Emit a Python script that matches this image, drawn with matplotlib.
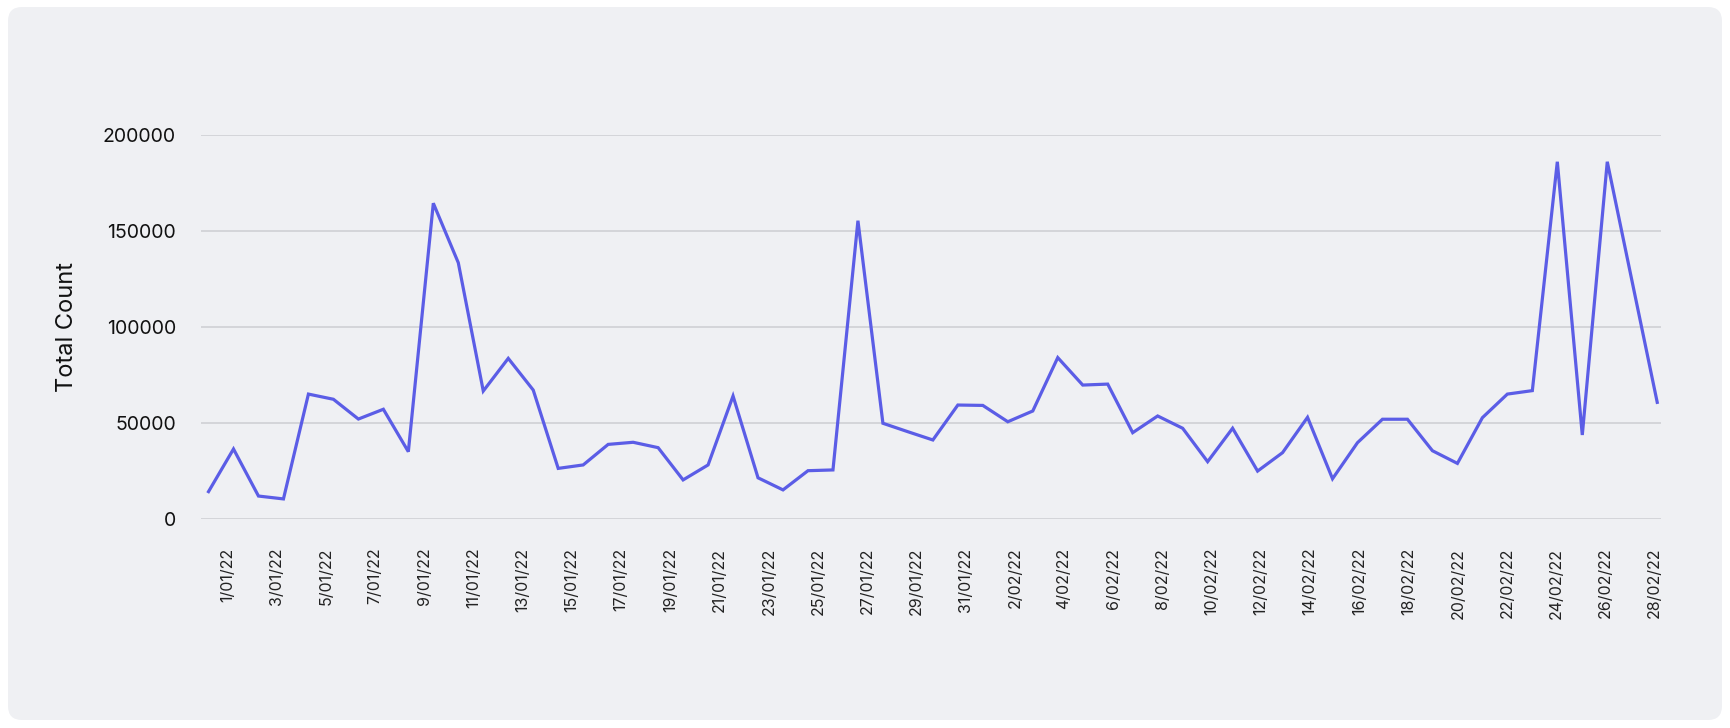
import matplotlib
matplotlib.use('Agg')
import matplotlib.pyplot as plt
import pandas as pd
from matplotlib.patches import FancyBboxPatch
from matplotlib.transforms import IdentityTransform

dates = pd.date_range('2022-01-01', '2022-02-28', freq='D')
date_labels = [f'{d.day}/{d.month:02d}/22' for d in dates]

total_count = [14100, 36300, 11800, 10300, 64900, 62200, 51900, 57000, 34900, 164300,
               133300, 66500, 83500, 67000, 26200, 28000, 38700, 39800, 37000, 20200,
               28000, 63900, 21300, 15000, 25000, 25400, 155200, 49700, 45300, 41000,
               59200, 59000, 50500, 56100, 83900, 69600, 70100, 44800, 53500, 47100,
               29700, 47100, 24800, 34400, 52800, 20800, 39600, 51800, 51800, 35400,
               28800, 52600, 64900, 66700, 185900, 43600, 185900, 123200, 60600]

y_ticks = [0, 50000, 100000, 150000, 200000]

plt.rcParams['font.family'] = ['Inter', 'DejaVu Sans']

fig = plt.figure(figsize=(17.3, 7.28), dpi=100)
fig.patch.set_facecolor('white')

# rounded grey card behind the chart
card = FancyBboxPatch((8, 8), 1714, 713, boxstyle='round,pad=0,rounding_size=14',
                      transform=IdentityTransform(), facecolor='#eff0f3',
                      edgecolor='none', zorder=-10)
fig.patches.append(card)

ax = fig.add_axes([0.1162, 0.2875, 0.8439, 0.5275])
ax.set_zorder(5)
ax.set_facecolor('none')

x = list(range(len(total_count)))
ax.plot(x, total_count, color='#5b5de6', linewidth=2.3, solid_joinstyle='miter', zorder=3)

ax.set_xlim(-0.3, len(x) - 1 + 0.15)
ax.set_ylim(0, 200000)
ax.set_yticks(y_ticks)
ax.set_yticklabels([str(v) for v in y_ticks], fontsize=14, color='#111111')
ax.set_xticks([])

ax.grid(axis='y', color='#cdced2', linewidth=1.1)
ax.tick_params(axis='both', length=0)
ax.tick_params(axis='y', pad=18)
for s in ax.spines.values():
    s.set_visible(False)

# date labels sit on a slightly narrower band than the line points
lab = ax.twiny()
lab.set_xlim(-1.08, 58.26)
lab.xaxis.set_ticks_position('bottom')
lab.set_xticks(x[::2])
lab.set_xticklabels(date_labels[::2], rotation=90, fontsize=11.5, color='#222222', va='top')
lab.tick_params(axis='x', length=0, pad=21)
for s in lab.spines.values():
    s.set_visible(False)

ax.set_ylabel('Total Count', fontsize=17, color='#111111', labelpad=18)

fig.savefig('out.png', dpi=100, facecolor='white')
